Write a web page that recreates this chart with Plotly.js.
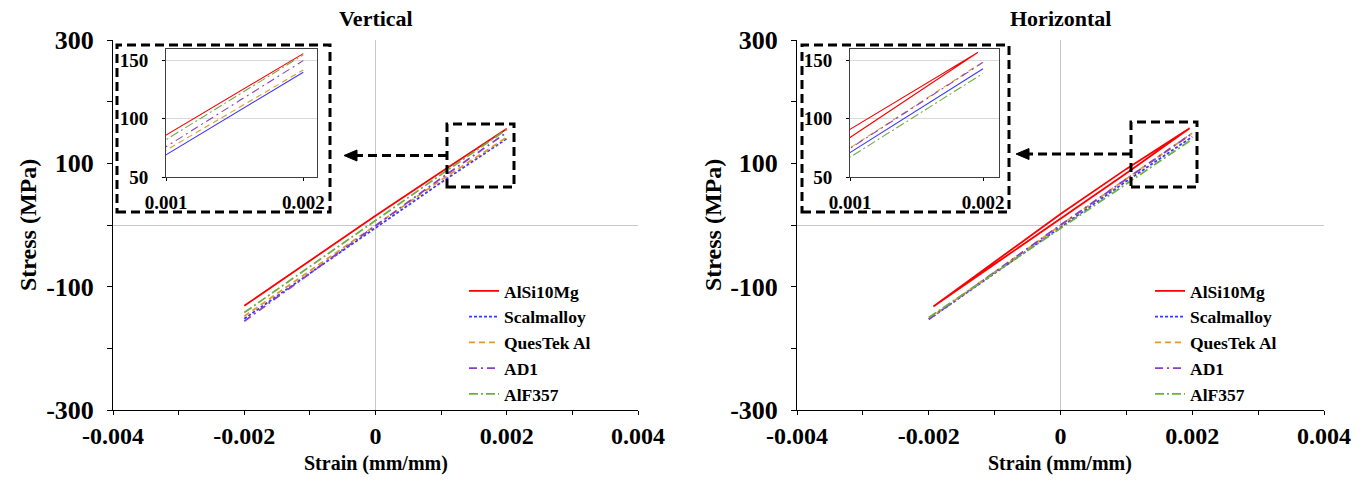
<!DOCTYPE html>
<html>
<head>
<meta charset="utf-8">
<script src="https://cdn.plot.ly/plotly-3.0.1.min.js"></script>
<style>html,body{margin:0;padding:0;background:#fff;}#chart{width:1370px;height:489px;}</style>
</head>
<body>
<div id="chart"></div>
<script>
// ---------- DATA ----------
const seriesNames = ['AlSi10Mg', 'Scalmalloy', 'QuesTek Al', 'AD1', 'AlF357'];
const seriesColors = ['#FF0000', '#3B3BF5', '#E39A2C', '#8A3FC4', '#6FAE46'];
const seriesDash = ['solid', '3px,2px', '6px,4px', '8px,4px,2px,4px', '9px,3px,2px,3px'];

// Vertical build
const strainV = [-0.002, 0, 0.001, 0.002];
const stressV_AlSi10Mg = [-131, 15, 86, 156];
const stressV_Scalmalloy = [-152, -4, 69, 140];
const stressV_QuesTek = [-148, 0, 73, 142];
const stressV_AD1 = [-156, -2, 76, 150];
const stressV_AlF357 = [-142, 8, 82, 155];

// Horizontal build
const strainH_AlSi10Mg = [-0.00193, 0, 0.001, 0.00196, 0.001, 0, -0.00193];
const stressH_AlSi10Mg = [-132, 10, 84, 157, 91, 18, -132];
const strainH = [-0.002, 0, 0.001, 0.002];
const stressH_Scalmalloy = [-153, -4, 71, 143];
const stressH_QuesTek = [-152, 0, 75, 149];
const stressH_AD1 = [-153, 0, 74.5, 148.5];
const stressH_AlF357 = [-150, -5, 67, 139];

// Tick labels / texts
const xTickVals = [-0.004, -0.003, -0.002, -0.001, 0, 0.001, 0.002, 0.003, 0.004];
const xTickText = ['-0.004', '', '-0.002', '', '0', '', '0.002', '', '0.004'];
const yTickVals = [-300, -200, -100, 0, 100, 200, 300];
const yTickText = ['-300', '', '-100', '', '100', '', '300'];
const insetXTicks = [0.001, 0.002];
const insetXText = ['0.001', '0.002'];
const insetYTicks = [50, 100, 150];
const panelTitles = ['Vertical', 'Horizontal'];
const xTitle = 'Strain (mm/mm)';
const yTitle = 'Stress (MPa)';

// ---------- BUILD ----------
const W = 1370, H = 489;
const px = v => v / W;
const py = v => 1 - v / H;
const FONT = '"Times New Roman", "Liberation Serif", "DejaVu Serif", serif';

const vertX = [strainV, strainV, strainV, strainV, strainV];
const vertY = [stressV_AlSi10Mg, stressV_Scalmalloy, stressV_QuesTek, stressV_AD1, stressV_AlF357];
const horX = [strainH_AlSi10Mg, strainH, strainH, strainH, strainH];
const horY = [stressH_AlSi10Mg, stressH_Scalmalloy, stressH_QuesTek, stressH_AD1, stressH_AlF357];

const traces = [];
function addPanel(xs, ys, xa, ya, xi, yi, legendName) {
  for (let i = 0; i < seriesNames.length; i++) {
    traces.push({
      type: 'scatter', mode: 'lines', x: xs[i], y: ys[i], name: seriesNames[i],
      xaxis: xa, yaxis: ya, legend: legendName,
      line: {color: seriesColors[i], width: 1.8, dash: seriesDash[i]},
      hoverinfo: 'skip'
    });
  }
  for (let i = 0; i < seriesNames.length; i++) {
    traces.push({
      type: 'scatter', mode: 'lines', x: xs[i], y: ys[i], name: seriesNames[i],
      xaxis: xi, yaxis: yi, showlegend: false,
      line: {color: seriesColors[i], width: 1.1, dash: i <= 1 ? 'solid' : seriesDash[i]},
      hoverinfo: 'skip'
    });
  }
}
addPanel(vertX, vertY, 'x', 'y', 'x3', 'y3', 'legend');
addPanel(horX, horY, 'x2', 'y2', 'x4', 'y4', 'legend2');

const bold = (size) => ({family: FONT, size: size, color: '#000', weight: 'bold'});

function mainX(domain, anchor) {
  return {
    domain: domain, anchor: anchor, range: [-0.004, 0.004],
    tickmode: 'array', tickvals: xTickVals, ticktext: xTickText,
    ticks: 'outside', ticklen: 4, tickcolor: '#000', tickwidth: 1,
    showline: true, linecolor: '#000', linewidth: 1,
    showgrid: false, zeroline: true, zerolinecolor: '#C8C8C8', zerolinewidth: 1,
    tickfont: bold(24)
  };
}
function mainY(anchor) {
  return {
    domain: [py(410), py(40)], anchor: anchor, range: [-300, 300],
    tickmode: 'array', tickvals: yTickVals, ticktext: yTickText,
    ticks: 'outside', ticklen: 5, tickcolor: '#000', tickwidth: 1,
    showline: true, linecolor: '#000', linewidth: 1,
    showgrid: false, zeroline: true, zerolinecolor: '#C8C8C8', zerolinewidth: 1,
    tickfont: bold(26), ticklabelstandoff: 8
  };
}
function insetX(domain, anchor, xmax) {
  return {
    domain: domain, anchor: anchor, range: [0.001, xmax],
    tickmode: 'array', tickvals: insetXTicks, ticktext: insetXText,
    ticks: 'outside', ticklen: 3, tickcolor: '#000',
    showline: true, mirror: true, linecolor: '#404040', linewidth: 1,
    showgrid: false, zeroline: false, tickfont: bold(19), ticklabelstandoff: 5
  };
}
function insetY(anchor) {
  return {
    domain: [py(177), py(49)], anchor: anchor, range: [50, 160],
    tickmode: 'array', tickvals: insetYTicks,
    ticks: 'outside', ticklen: 3, tickcolor: '#000',
    showline: true, mirror: true, linecolor: '#404040', linewidth: 1,
    showgrid: true, gridcolor: '#D9D9D9', gridwidth: 1, zeroline: false,
    tickfont: bold(19), ticklabelstandoff: 10
  };
}

const dashBox = {color: '#000', width: 3, dash: '9px,5px'};
const shapes = [
  {type: 'rect', xref: 'paper', yref: 'paper', x0: px(117), x1: px(330), y0: py(212), y1: py(45), line: dashBox},
  {type: 'rect', xref: 'paper', yref: 'paper', x0: px(802), x1: px(1009), y0: py(212), y1: py(45), line: dashBox},
  {type: 'rect', xref: 'paper', yref: 'paper', x0: px(447), x1: px(514), y0: py(187), y1: py(124), line: dashBox},
  {type: 'rect', xref: 'paper', yref: 'paper', x0: px(1131), x1: px(1197), y0: py(187), y1: py(122), line: dashBox},
  {type: 'line', xref: 'paper', yref: 'paper', x0: px(447), x1: px(356), y0: py(155.5), y1: py(155.5), line: dashBox},
  {type: 'path', xref: 'paper', yref: 'paper',
   path: `M ${px(344)} ${py(155.5)} L ${px(357)} ${py(150)} L ${px(357)} ${py(161)} Z`,
   fillcolor: '#000', line: {color: '#000', width: 1}},
  {type: 'line', xref: 'paper', yref: 'paper', x0: px(1131), x1: px(1029), y0: py(154), y1: py(154), line: dashBox},
  {type: 'path', xref: 'paper', yref: 'paper',
   path: `M ${px(1016)} ${py(154)} L ${px(1029)} ${py(148.5)} L ${px(1029)} ${py(159.5)} Z`,
   fillcolor: '#000', line: {color: '#000', width: 1}}
];

const legendBase = {
  xanchor: 'left', yanchor: 'top', bgcolor: 'rgba(0,0,0,0)', borderwidth: 0,
  font: bold(17.5), tracegroupgap: 0
};

function ann(text, x, y, size, angle) {
  return {text: text, xref: 'paper', yref: 'paper', x: px(x), y: py(y), xanchor: 'center', yanchor: 'middle',
          showarrow: false, textangle: angle || 0, font: bold(size)};
}

const layout = {
  width: W, height: H,
  margin: {l: 0, r: 0, t: 0, b: 0},
  paper_bgcolor: '#fff', plot_bgcolor: '#fff',
  font: {family: FONT},
  showlegend: true,
  legend: Object.assign({x: px(464), y: py(273)}, legendBase),
  legend2: Object.assign({x: px(1150), y: py(273)}, legendBase),
  xaxis: mainX([px(113), px(638)], 'y'),
  yaxis: mainY('x'),
  xaxis2: mainX([px(797), px(1324)], 'y2'),
  yaxis2: mainY('x2'),
  xaxis3: insetX([px(166), px(317)], 'y3', 0.0021),
  yaxis3: insetY('x3'),
  xaxis4: insetX([px(850), px(999)], 'y4', 0.00212),
  yaxis4: insetY('x4'),
  shapes: shapes,
  annotations: [
    ann(panelTitles[0], 376, 18, 22),
    ann(panelTitles[1], 1060, 18, 22),
    ann(xTitle, 376, 463, 20),
    ann(xTitle, 1060, 463, 20),
    ann(yTitle, 28, 225, 24, -90),
    ann(yTitle, 713, 225, 24, -90)
  ]
};

Plotly.newPlot('chart', traces, layout, {displayModeBar: false, staticPlot: true});
</script>
</body>
</html>
